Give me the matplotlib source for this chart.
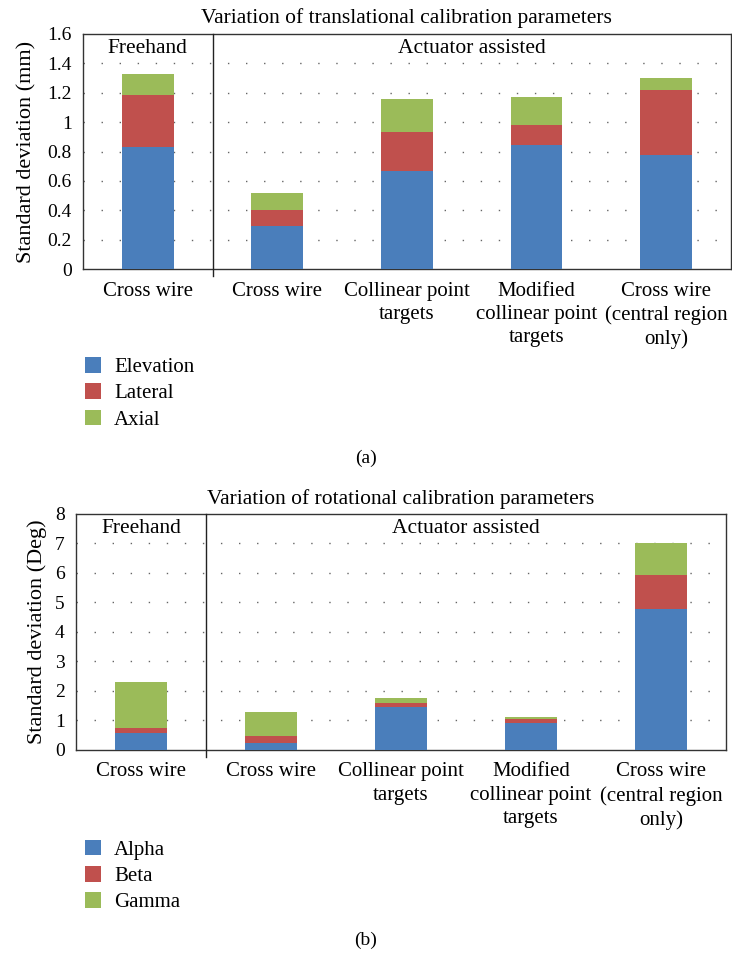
import matplotlib.pyplot as plt
from matplotlib.patches import Patch

plt.rcParams['font.family'] = ['Liberation Serif', 'DejaVu Serif']

categories = ["Cross wire", "Cross wire", "Collinear point\ntargets",
              "Modified\ncollinear point\ntargets", "Cross wire\n(central region\nonly)"]

# translational (mm)
elevation = [0.83, 0.29, 0.67, 0.845, 0.775]
lateral = [0.355, 0.115, 0.265, 0.135, 0.445]
axial = [0.145, 0.115, 0.225, 0.19, 0.08]

# rotational (deg)
alpha = [0.565, 0.25, 1.445, 0.925, 4.79]
beta = [0.19, 0.235, 0.135, 0.115, 1.15]
gamma = [1.56, 0.815, 0.195, 0.09, 1.065]

trans_ticks = [0, 0.2, 0.4, 0.6, 0.8, 1.0, 1.2, 1.4, 1.6]
trans_ticklabels = ["0", "0.2", "0.4", "0.6", "0.8", "1", "1.2", "1.4", "1.6"]
rot_ticks = [0, 1, 2, 3, 4, 5, 6, 7, 8]

colors = ['#4a7ebb', '#c0504d', '#9bbb59']

fig = plt.figure(figsize=(7.32, 9.55), dpi=100)


def stacked(ax, series, names, ticks, ticklabels, ylabel, title, legend_y, labelpad, titlepad):
    x = list(range(len(categories)))
    bottom = [0] * len(categories)
    handles = []
    for vals, c, n in zip(series, colors, names):
        ax.bar(x, vals, width=0.4, bottom=bottom, color=c, zorder=3)
        bottom = [b + v for b, v in zip(bottom, vals)]
        handles.append(Patch(facecolor=c, label=n))
    ax.set_xlim(-0.5, 4.5)
    ax.set_ylim(ticks[0], ticks[-1])
    ax.set_yticks(ticks)
    ax.set_yticklabels(ticklabels, fontsize=14)
    ax.set_xticks(x)
    ax.set_xticklabels(categories, fontsize=15, linespacing=1.32)
    ax.tick_params(axis='x', length=0, pad=9)
    ax.tick_params(axis='y', length=0, pad=8)
    for t in ticks[1:-1]:
        ax.axhline(t, color='#666666', lw=1, linestyle=(0, (1, 12)), zorder=1)
    for s in ax.spines.values():
        s.set_color('#333333')
        s.set_linewidth(1.0)
    ax.plot([0.5, 0.5], [ticks[0] - (ticks[-1] * 0.03), ticks[-1]], color='#222222',
            lw=1, clip_on=False, zorder=4)
    ytxt = ticks[-1] * 0.94
    ax.text(0, ytxt, "Freehand", ha='center', va='center', fontsize=15.5)
    ax.text(2.5, ytxt, "Actuator assisted", ha='center', va='center', fontsize=15.5)
    ax.set_ylabel(ylabel, fontsize=16, labelpad=labelpad)
    ax.set_title(title, fontsize=15.5, pad=titlepad)
    fig.legend(handles=handles, loc='upper left', bbox_to_anchor=(0.116, legend_y),
               frameon=False, fontsize=15, handlelength=0.77, handleheight=0.77,
               labelspacing=0.3, handletextpad=0.63, borderpad=0, borderaxespad=0)


ax1 = fig.add_axes([0.1134, 0.7183, 0.885, 0.2461])
stacked(ax1, [elevation, lateral, axial], ["Elevation", "Lateral", "Axial"],
        trans_ticks, trans_ticklabels, "Standard deviation (mm)",
        "Variation of translational calibration parameters", 0.626, 8, 8)
fig.text(0.5, 1 - 458 / 955, "(a)", ha='center', va='center', fontsize=14)

ax2 = fig.add_axes([0.1038, 0.2147, 0.888, 0.2471])
stacked(ax2, [alpha, beta, gamma], ["Alpha", "Beta", "Gamma"],
        rot_ticks, [str(t) for t in rot_ticks], "Standard deviation (Deg)",
        "Variation of rotational calibration parameters", 0.1205, 6, 7)
fig.text(0.5, 1 - 940 / 955, "(b)", ha='center', va='center', fontsize=14)

fig.savefig("out.png", dpi=100)
